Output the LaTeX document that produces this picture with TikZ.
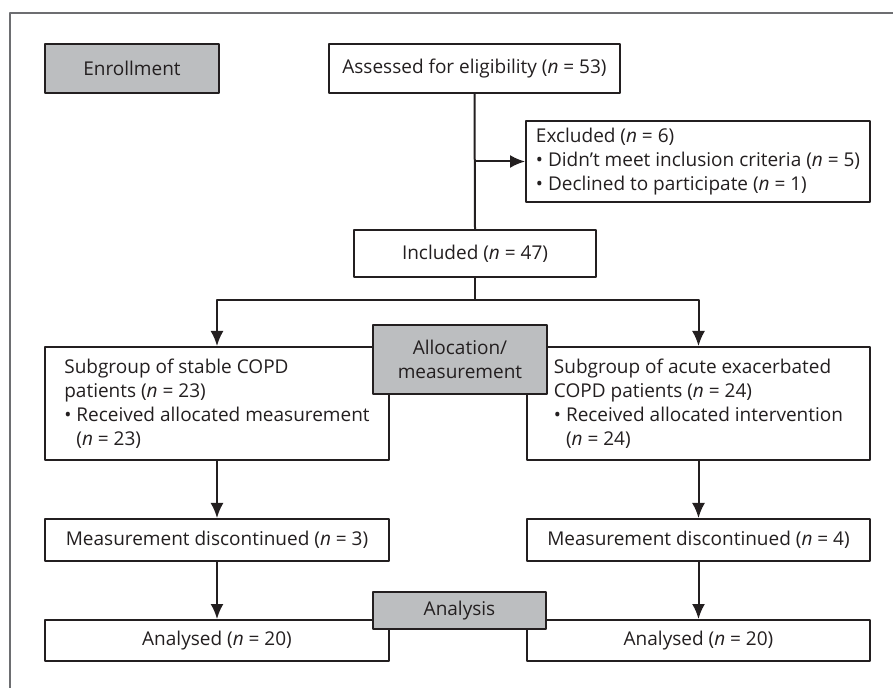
\documentclass[tikz,border=0pt]{standalone}
\usepackage{fontspec}
\setmainfont{Open Sans}
\usetikzlibrary{arrows.meta}
\definecolor{inkgray}{HTML}{231F20}
\definecolor{boxgray}{HTML}{BCBEC0}
\definecolor{framegray}{HTML}{6D6E71}
\newcommand{\nn}[1]{(\textit{n}~=~#1)}
\begin{document}
\begin{tikzpicture}[x=0.5pt,y=-0.5pt,line join=round,
    font=\fontsize{9.5}{12}\selectfont,text=inkgray,
    flowbox/.style={draw=inkgray,line width=1pt,fill=white,inner sep=0pt},
    stagebox/.style={flowbox,fill=boxgray,align=center},
    listbox/.style={flowbox,align=left,minimum width=172pt},
    flowarrow/.style={draw=inkgray,line width=1pt,-{Latex[length=7.5pt,width=6.5pt]}},
    flowline/.style={draw=inkgray,line width=1pt}]
  % 画布与外框
  \useasboundingbox (0,0) rectangle (893,688);
  \draw[framegray,line width=1.1pt] (10,688) -- (10,13) -- (893,13);

  % 入组阶段
  \node[stagebox,minimum width=87pt,minimum height=24.5pt] (enroll) at (132,68.5) {Enrollment};
  \node[flowbox,minimum width=145.5pt,minimum height=24.5pt] (assess) at (474.5,68.5) {Assessed for eligibility \nn{53}};
  \node[listbox,minimum height=40.5pt] (excl) at (698,161.5)
    {Excluded \nn{6}\\ \textbullet\ Didn’t meet inclusion criteria \nn{5}\\ \textbullet\ Declined to participate \nn{1}};
  \node[flowbox,minimum width=121pt,minimum height=23.5pt] (incl) at (475,253.5) {Included \nn{47}};

  % 分组
  \node[listbox,minimum height=56.5pt] (subL) at (217,403.5)
    {Subgroup of stable COPD\\ patients \nn{23}\\ \textbullet\ Received allocated measurement\\ \phantom{\textbullet}\ \nn{23}};
  \node[listbox,minimum width=171.5pt,minimum height=56.5pt] (subR) at (698.5,403.5)
    {Subgroup of acute exacerbated\\ COPD patients \nn{24}\\ \textbullet\ Received allocated intervention\\ \phantom{\textbullet}\ \nn{24}};
  \node[stagebox,minimum width=87pt,minimum height=34.5pt] (alloc) at (460,359.5) {Allocation/\\measurement};

  % 随访
  \node[flowbox,minimum width=172pt,minimum height=21pt] (measL) at (217,540) {Measurement discontinued \nn{3}};
  \node[flowbox,minimum width=171.5pt,minimum height=21pt] (measR) at (698.5,540) {Measurement discontinued \nn{4}};

  % 分析
  \node[flowbox,minimum width=172pt,minimum height=20.5pt] (anL) at (217,640.5) {Analysed \nn{20}};
  \node[flowbox,minimum width=171.5pt,minimum height=20.5pt] (anR) at (698.5,640.5) {Analysed \nn{20}};
  \node[stagebox,minimum width=86.5pt,minimum height=18.5pt] (analysis) at (459.5,610.5) {Analysis};

  % 连线
  \coordinate (split) at (incl.south |- 0,300);
  \draw[flowline] (assess.south) -- (incl.north);
  \draw[flowarrow] (assess.south |- excl.west) -- (excl.west);
  \draw[flowline] (incl.south) -- (split);
  \draw[flowarrow] (split) -| (subL.north);
  \draw[flowarrow] (split) -| (subR.north);
  \draw[flowarrow] (subL) -- (measL);
  \draw[flowarrow] (subR) -- (measR);
  \draw[flowarrow] (measL) -- (anL);
  \draw[flowarrow] (measR) -- (anR);
\end{tikzpicture}
\end{document}
